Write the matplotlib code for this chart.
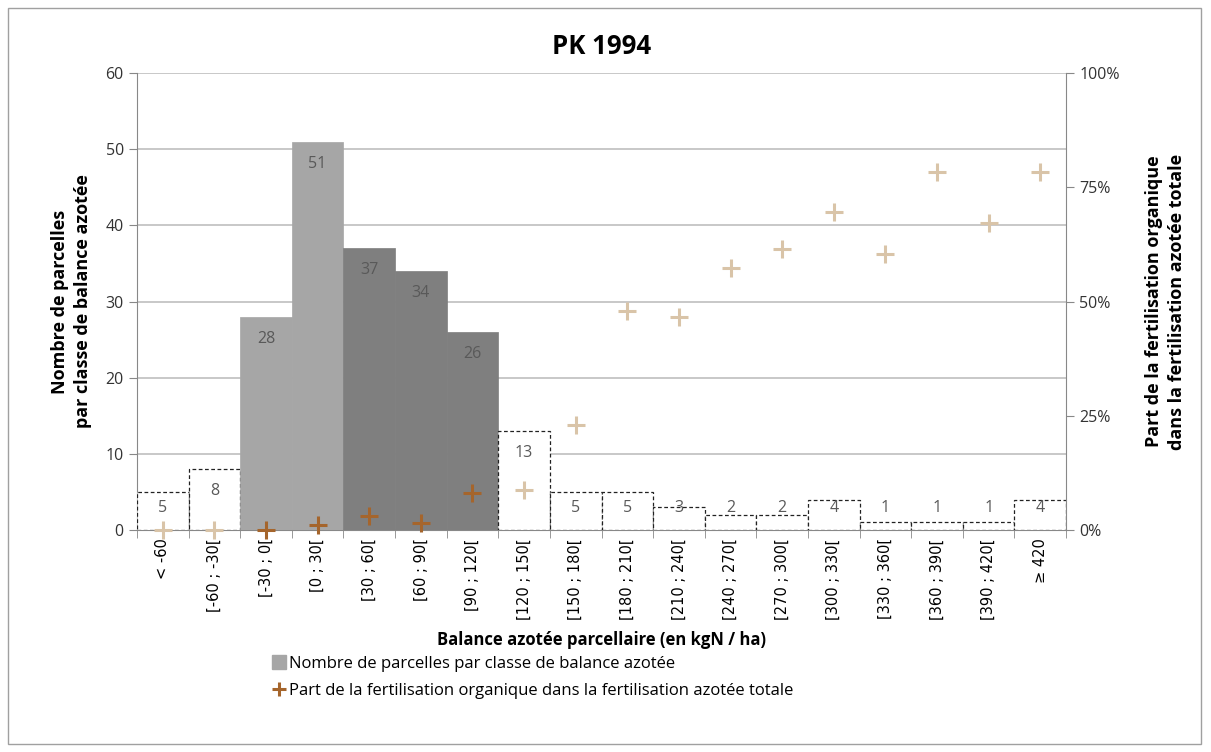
import matplotlib
matplotlib.use("Agg")
import matplotlib.pyplot as plt
from matplotlib.patches import Rectangle
from matplotlib.lines import Line2D
from matplotlib.ticker import FuncFormatter

plt.rcParams['font.family'] = ['Open Sans', 'DejaVu Sans']

categories = ["< -60", "[-60 ; -30[", "[-30 ; 0[", "[0 ; 30[", "[30 ; 60[", "[60 ; 90[",
              "[90 ; 120[", "[120 ; 150[", "[150 ; 180[", "[180 ; 210[", "[210 ; 240[",
              "[240 ; 270[", "[270 ; 300[", "[300 ; 330[", "[330 ; 360[", "[360 ; 390[",
              "[390 ; 420[", "≥ 420"]
counts = [5, 8, 28, 51, 37, 34, 26, 13, 5, 5, 3, 2, 2, 4, 1, 1, 1, 4]
organic_share = [0.0, 0.0, 0.0, 1.0, 3.0, 1.5, 8.0, 8.7, 23.0, 48.0, 46.6, 57.3,
                 61.5, 69.6, 60.4, 78.4, 67.2, 78.4]
# bar style group: 'dash' = dashed outline, 'light' = light grey, 'dark' = dark grey
groups = ['dash', 'dash', 'light', 'light', 'dark', 'dark', 'dark'] + ['dash'] * 11

fig = plt.figure(figsize=(12.11, 7.52), dpi=100)
fig.patches.append(Rectangle((0.007, 0.011), 0.985, 0.978, transform=fig.transFigure,
                             fill=False, edgecolor='#a0a0a0', linewidth=1.0))
ax = fig.add_axes([0.1131, 0.2952, 0.7672, 0.6077])
ax2 = ax.twinx()

x = list(range(len(categories)))
fills = {'dash': 'white', 'light': '#a6a6a6', 'dark': '#7f7f7f'}
for xi, v, g in zip(x, counts, groups):
    if g == 'dash':
        ax.bar(xi, v, width=1.0, color='white', edgecolor='#222222', linestyle=(0, (3, 2)),
               linewidth=0.9, zorder=3)
    else:
        ax.bar(xi, v, width=1.0, color=fills[g], edgecolor=fills[g], linewidth=0.5, zorder=3)
    ly = max(v - 2.9, 2.9)
    ax.text(xi, ly, str(v), ha='center', va='center', fontsize=11.5, color='#595959', zorder=5)

ax.set_xlim(-0.5, len(categories) - 0.5)
ax.set_ylim(0, 60)
ax.set_yticks(range(0, 61, 10))
ax.yaxis.grid(True, color='#bfbfbf', linewidth=1.2, zorder=0)
ax.set_axisbelow(True)
ax.set_xticks(x)
ax.set_xticklabels(categories, rotation=90, fontsize=10.5, family=['DejaVu Sans'])
ax.set_xticks([i - 0.5 for i in range(len(categories) + 1)], minor=True)
ax.tick_params(axis='x', which='major', length=0, pad=6)
ax.tick_params(axis='x', which='minor', length=6, color='#888888')
ax.tick_params(axis='y', labelsize=11.5, length=6, color='#888888', labelcolor='#333333')
for s in ['top', 'right']:
    ax.spines[s].set_visible(False)
ax.spines['left'].set_color('#888888')
ax.spines['bottom'].set_color('#888888')

ax.set_ylabel("Nombre de parcelles\npar classe de balance azotée", fontsize=13,
              fontweight='bold', labelpad=10, linespacing=1.35)
ax.set_xlabel("Balance azotée parcellaire (en kgN / ha)", fontsize=12, fontweight='bold',
              labelpad=8)
ax.set_title("PK 1994", fontsize=18.5, fontweight='bold', pad=14)

light_c = '#d9c4a8'
dark_c = '#a5652c'
for xi, p, g in zip(x, organic_share, groups):
    c = light_c if g == 'dash' else dark_c
    ax2.plot(xi, p, marker='+', markersize=13, markeredgewidth=2.2, color=c,
             linestyle='none', zorder=6, clip_on=False)
ax2.set_ylim(0, 100)
ax2.set_yticks([0, 25, 50, 75, 100])
ax2.yaxis.set_major_formatter(FuncFormatter(lambda v, _: f"{int(v)}%"))
ax2.tick_params(axis='y', labelsize=11.5, length=6, color='#888888', labelcolor='#333333')
for s in ['top', 'left', 'bottom']:
    ax2.spines[s].set_visible(False)
ax2.spines['right'].set_color('#888888')
ax2.set_ylabel("Part de la fertilisation organique\ndans la fertilisation azotée totale",
               fontsize=13, fontweight='bold', labelpad=18, linespacing=1.35)
ax.set_zorder(ax2.get_zorder() - 1)
ax2.patch.set_visible(False)

handles = [Line2D([], [], marker='s', color='#a6a6a6', linestyle='none', markersize=10),
           Line2D([], [], marker='+', color=dark_c, linestyle='none', markersize=10,
                  markeredgewidth=2.2)]
labels = ["Nombre de parcelles par classe de balance azotée",
          "Part de la fertilisation organique dans la fertilisation azotée totale"]
fig.legend(handles, labels, loc='upper left', bbox_to_anchor=(0.218, 0.137), frameon=False,
           fontsize=12, handletextpad=0.1, handlelength=1.0, labelspacing=0.7,
           borderaxespad=0)

fig.savefig("out.png", dpi=100)
